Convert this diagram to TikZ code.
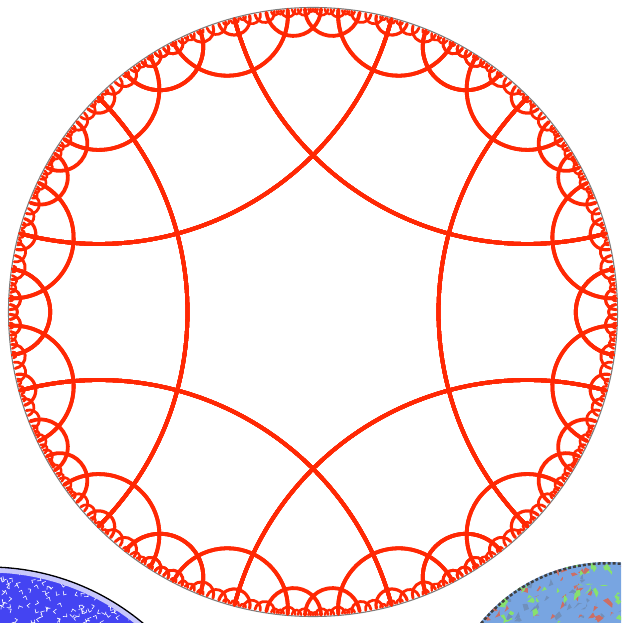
\documentclass[tikz,border=0pt]{standalone}
\definecolor{hypred}{RGB}{255,40,4}
\definecolor{rimgrey}{RGB}{125,125,125}
\definecolor{plateblue}{RGB}{68,68,242}
\definecolor{mixblue}{RGB}{120,165,225}
\definecolor{mixgreen}{RGB}{135,225,110}
\definecolor{mixred}{RGB}{205,110,100}
\tikzset{
  hypline/.style={draw=hypred, line width=3.8pt, line cap=round},
  rimline/.style={draw=rimgrey, line width=1.1pt},
}
\makeatletter
\newcount\hq@head
\newcount\hq@tail
\def\hq@eps{0.011}
\def\hq@epsdraw{0.0085}
\def\hq@R{303}
\gdef\hq@lines{}
\def\hq@get#1#2#3{\csname hqT@#1@#2@#3\endcsname}
\def\hq@set#1#2#3#4{\expandafter\xdef\csname hqT@#1@#2@#3\endcsname{#4}}
% register a geodesic (mid angle, half width) for drawing
\def\hq@addline#1#2{%
  \ifnum\fpeval{tand(#2)>\hq@epsdraw}=1
    \edef\hq@key{hqL@\fpeval{round(#1,3)}@\fpeval{round(#2,3)}}%
    \expandafter\ifx\csname\hq@key\endcsname\relax
      \expandafter\gdef\csname\hq@key\endcsname{1}%
      \edef\hq@tmp{\noexpand\g@addto@macro\noexpand\hq@lines{\noexpand\hq@arc{\fpeval{round((#1)-(#2),5)}}{\fpeval{round((#1)-90-(#2),5)}}{\fpeval{round((#1)-270+(#2),5)}}{\fpeval{round(tand(#2)*\hq@R,4)}}{\fpeval{round(min(3.8,2.1+0.07*tand(#2)*\hq@R),3)}}}}%
      \hq@tmp
    \fi
  \fi
}
% reflect boundary angle #1 across geodesic with mid #2 and k=#3
\def\hq@refl#1#2#3{%
  \edef\hq@res{\fpeval{(#2)+2*atand((#3)*(1+cosd((#1)-(#2))),sind((#1)-(#2)))}}}
% endpoints -> mid, half width, k
\def\hq@mkline#1#2{%
  \edef\hq@d{\fpeval{(#2)-(#1)-360*floor(((#2)-(#1))/360)}}%
  \ifnum\fpeval{\hq@d>180}=1
    \edef\hq@be{\fpeval{(360-\hq@d)/2}}%
    \edef\hq@mu{\fpeval{(#2)+\hq@be}}%
  \else
    \edef\hq@be{\fpeval{\hq@d/2}}%
    \edef\hq@mu{\fpeval{(#1)+\hq@be}}%
  \fi
  \edef\hq@mu{\fpeval{\hq@mu-360*floor(\hq@mu/360)}}%
  \edef\hq@k{\fpeval{tand(\hq@be/2)^2}}%
}
% reflect interior point (#1,#2) across geodesic (mu #3, beta #4)
\def\hq@reflpt#1#2#3#4{%
  \edef\hq@cx{\fpeval{cosd(#3)/cosd(#4)}}%
  \edef\hq@cy{\fpeval{sind(#3)/cosd(#4)}}%
  \edef\hq@f{\fpeval{tand(#4)^2/(((#1)-\hq@cx)^2+((#2)-\hq@cy)^2)}}%
  \edef\hq@nx{\fpeval{\hq@cx+\hq@f*((#1)-\hq@cx)}}%
  \edef\hq@ny{\fpeval{\hq@cy+\hq@f*((#2)-\hq@cy)}}%
}
\def\hq@newtile{%
  \global\advance\hq@tail by 1
  \edef\hq@m{\the\hq@tail}%
  \hq@set\hq@m{x}{}{\hq@nx}%
  \hq@set\hq@m{y}{}{\hq@ny}%
  \foreach \hqi in {0,...,5}{%
    \ifnum\hqi=\hqj\relax
      \hq@set\hq@m{mu}\hqi{\hq@jmu}%
      \hq@set\hq@m{be}\hqi{\hq@jbe}%
      \hq@set\hq@m{k}\hqi{\hq@jk}%
    \else
      \edef\hq@imu{\hq@get\hq@n{mu}\hqi}%
      \edef\hq@ibe{\hq@get\hq@n{be}\hqi}%
      \hq@refl{\hq@imu-\hq@ibe}\hq@jmu\hq@jk\let\hq@p\hq@res
      \hq@refl{\hq@imu+\hq@ibe}\hq@jmu\hq@jk\let\hq@q\hq@res
      \hq@mkline\hq@p\hq@q
      \hq@set\hq@m{mu}\hqi{\hq@mu}%
      \hq@set\hq@m{be}\hqi{\hq@be}%
      \hq@set\hq@m{k}\hqi{\hq@k}%
      \hq@addline\hq@mu\hq@be
    \fi
  }%
}
\def\hq@process{%
  \edef\hq@n{\the\hq@head}%
  \edef\hq@x{\hq@get\hq@n{x}{}}%
  \edef\hq@y{\hq@get\hq@n{y}{}}%
  \foreach \hqj in {0,...,5}{%
    \edef\hq@jmu{\hq@get\hq@n{mu}\hqj}%
    \edef\hq@jbe{\hq@get\hq@n{be}\hqj}%
    \edef\hq@jk{\hq@get\hq@n{k}\hqj}%
    \ifnum\fpeval{tand(\hq@jbe)>\hq@eps}=1
      \hq@reflpt\hq@x\hq@y\hq@jmu\hq@jbe
      \edef\hq@key{hqV@\fpeval{round(\hq@nx,5)}@\fpeval{round(\hq@ny,5)}}%
      \expandafter\ifx\csname\hq@key\endcsname\relax
        \expandafter\gdef\csname\hq@key\endcsname{1}%
        \edef\hq@a{\fpeval{atand(\hq@ny,\hq@nx)}}%
        \ifnum\fpeval{(\hq@a>-3)&&(\hq@a<63)}=1
          \hq@newtile
        \fi
      \fi
    \fi
  }%
}
\def\hq@bfs{\ifnum\hq@head>\hq@tail\else\hq@process\global\advance\hq@head by 1 \expandafter\hq@bfs\fi}
% central hexagon
\global\hq@head=1
\global\hq@tail=1
\foreach \j in {0,...,5}{%
  \hq@set{1}{mu}{\j}{\fpeval{60*\j}}%
  \hq@set{1}{be}{\j}{45}%
  \hq@set{1}{k}{\j}{\fpeval{tand(22.5)^2}}%
  \hq@addline{\fpeval{60*\j}}{45}%
}
\hq@set{1}{x}{}{0}
\hq@set{1}{y}{}{0}
\expandafter\gdef\csname hqV@0@0\endcsname{1}
\hq@bfs
\begin{document}
\begin{tikzpicture}
\useasboundingbox (0,0) rectangle (621pt,623pt);
% neighbouring plates, cropped at the corners
\begin{scope}
  \clip (0,0) rectangle (621pt,623pt);
  \begin{scope}
    \clip (-12pt,-186pt) circle[radius=242pt];
    \fill[plateblue] (-12pt,-186pt) circle[radius=242pt];
    \pgfmathsetseed{11}
    \foreach \i in {1,...,140}{%
      \pgfmathsetmacro\px{rnd*150}\pgfmathsetmacro\py{rnd*60}%
      \pgfmathsetmacro\pa{rnd*360}%
      \draw[white, line width=0.6pt] (\px pt,\py pt) -- ++(\pa:4pt) -- ++(\pa+100:3pt);
    }
    \draw[white!70!plateblue, line width=5pt] (-12pt,-186pt) circle[radius=239pt];
  \end{scope}
  \draw[black, line width=1.3pt] (-12pt,-186pt) circle[radius=242pt];
  \begin{scope}
    \clip (608pt,-104pt) circle[radius=165pt];
    \fill[mixblue] (608pt,-104pt) circle[radius=165pt];
    \pgfmathsetseed{5}
    \foreach \i in {1,...,160}{%
      \pgfmathsetmacro\px{460+rnd*165}\pgfmathsetmacro\py{rnd*66}%
      \pgfmathsetmacro\pc{int(rnd*3)}%
      \ifnum\pc=0 \def\pcol{mixgreen}\fi
      \ifnum\pc=1 \def\pcol{mixred}\fi
      \ifnum\pc=2 \def\pcol{mixblue!80!black!90}\fi
      \fill[\pcol] (\px pt,\py pt) -- ++(rnd*6pt,rnd*5pt) -- ++(rnd*-5pt,rnd*6pt) -- ++(rnd*-5pt,rnd*-6pt) -- cycle;
    }
    \draw[black!75, line width=3pt, dotted] (608pt,-104pt) circle[radius=164pt];
  \end{scope}
\end{scope}
% hyperbolic {6,4} tiling in the Poincare disk
\begin{scope}[shift={(313pt,311pt)}]
  \draw[rimline] (0,0) circle[radius=304.5pt];
  \def\hq@arc#1#2#3#4#5{\draw[hypline, line width=#5pt] (#1:303pt) arc[start angle=#2, end angle=#3, radius=#4pt];}
  \foreach \r in {0,60,...,300}{\begin{scope}[rotate=\r]\hq@lines\end{scope}}
\end{scope}
\end{tikzpicture}
\end{document}
